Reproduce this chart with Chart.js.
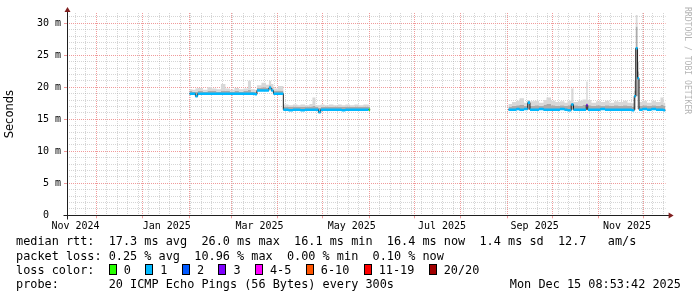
<!DOCTYPE html>
<html>
<head>
<meta charset="utf-8">
<script src="https://cdn.jsdelivr.net/npm/chart.js@4.4.1/dist/chart.umd.min.js"></script>
<style>
  html, body { margin: 0; padding: 0; background: #fff; }
  #wrap { position: relative; width: 697px; height: 297px; overflow: hidden; }
  #graph { position: absolute; left: 0; top: 0; }
  .leg { position: absolute; left: 16px; font-family: 'DejaVu Sans Mono', monospace; font-size: 11.85px; line-height: 14px; white-space: pre; color: #000; }
  .box { display: inline-block; width: 6px; height: 9px; border: 1px solid #000; vertical-align: -1px; }
  #stamp { left: auto; right: 16px; }
  #wm { position: absolute; left: 683px; top: 7px; writing-mode: vertical-rl; font-family: 'DejaVu Sans Mono', monospace; font-size: 8.1px; color: #b4b4b4; white-space: pre; }
</style>
</head>
<body>
<div id="wrap">
  <canvas id="graph" width="697" height="297"></canvas>
  <div id="wm">RRDTOOL / TOBI OETIKER</div>
  <div class="leg" style="top:234px">median rtt:  17.3 ms avg  26.0 ms max  16.1 ms min  16.4 ms now  1.4 ms sd  12.7   am/s</div>
  <div class="leg" style="top:248.5px">packet loss: 0.25 % avg  10.96 % max  0.00 % min  0.10 % now</div>
  <div class="leg" id="lossRow" style="top:262.5px"></div>
  <div class="leg" style="top:277px">probe:       20 ICMP Echo Pings (56 Bytes) every 300s</div>
  <div class="leg" id="stamp" style="top:277px">Mon Dec 15 08:53:42 2025</div>
</div>
<script>
// x values are days counted from 1 Dec 2024
const viewStart = -19.6;
const viewEnd = 379.4;

// month starts (red grid), Dec 2024 .. Dec 2025
const monthDays = [0, 31, 62, 90, 121, 151, 182, 212, 243, 274, 304, 335, 365];
const monthLabels = ['Nov 2024', 'Jan 2025', 'Mar 2025', 'May 2025', 'Jul 2025', 'Sep 2025', 'Nov 2025'];
const monthLabelDays = [-13.9, 46.9, 108.7, 170.2, 230.4, 292.1, 353.7];

const yLabelValues = [0, 5, 10, 15, 20, 25, 30];

// loss colours from smokeping
const lossColors = ['#26ff00', '#00b8ff', '#0059ff', '#7e00ff', '#ff00ff', '#ff5500', '#ff0000', '#a10000'];
const lossNames = ['0', '1', '2', '3', '4-5', '6-10', '11-19', '20/20'];

const days = [
  // feb - may 2025
  62, 64, 66, 67.5, 71, 74, 77, 80, 83, 86, 89, 92, 95, 98, 101, 103, 105.5, 107, 110, 113,
  115, 116.5, 118, 121, 124.6, 128, 131, 134, 136, 139, 142, 144, 146, 148, 149.5, 152, 155, 158, 161, 163.5,
  166, 169, 172, 175, 178, 181.5, 182.5, 183,
  // sep - dec 2025
  274.6, 277, 280, 282, 285, 287.5, 289, 292, 295, 298, 300, 303, 306, 309, 312, 314, 316.5, 318, 321, 324,
  326.5, 327.5, 330, 333, 336, 339, 342, 345, 348, 351, 354, 357, 358.5, 359.5, 360.7, 361.7, 364, 367, 370, 373,
  376, 378, 379.4
];

const medianRtt = [
  19.0, 19.0, 18.6, 19.0, 19.0, 19.0, 19.0, 19.0, 19.0, 19.0, 19.0, 19.0, 19.0, 19.0, 19.0, 19.0, 18.9, 19.5, 19.5, 19.5,
  19.9, 19.5, 19.0, 19.0, 16.5, 16.4, 16.5, 16.5, 16.4, 16.5, 16.5, 16.5, 16.5, 16.1, 16.5, 16.5, 16.5, 16.5, 16.5, 16.4,
  16.5, 16.5, 16.5, 16.5, 16.5, 16.5, 16.5, null,
  16.5, 16.5, 16.6, 16.5, 16.6, 17.6, 16.5, 16.5, 16.6, 16.5, 16.5, 16.5, 16.5, 16.6, 16.5, 16.4, 17.3, 16.5, 16.5, 16.5,
  17.2, 16.5, 16.5, 16.5, 16.6, 16.5, 16.5, 16.5, 16.5, 16.5, 16.5, 16.4, 18.6, 26.1, 21.4, 16.5, 16.6, 16.5, 16.6, 16.5,
  16.5, 16.4, 16.4
];

const smokeLow = [
  18.9, 18.9, 18.5, 18.9, 18.9, 18.9, 18.9, 18.9, 18.9, 18.9, 18.9, 18.9, 18.9, 18.9, 18.9, 18.9, 18.8, 19.4, 19.4, 19.4,
  19.8, 19.4, 18.9, 18.9, 16.4, 16.3, 16.4, 16.4, 16.3, 16.4, 16.4, 16.4, 16.4, 16.0, 16.4, 16.4, 16.4, 16.4, 16.4, 16.3,
  16.4, 16.4, 16.4, 16.4, 16.4, 16.4, 16.4, null,
  16.4, 16.4, 16.5, 16.4, 16.5, 16.5, 16.4, 16.4, 16.5, 16.4, 16.4, 16.4, 16.4, 16.5, 16.4, 16.3, 16.5, 16.4, 16.4, 16.4,
  16.5, 16.4, 16.4, 16.4, 16.5, 16.4, 16.4, 16.4, 16.4, 16.4, 16.4, 16.3, 16.5, 18.6, 16.6, 16.4, 16.5, 16.4, 16.5, 16.4,
  16.4, 16.3, 16.3
];

const smokeMid = [
  19.4, 19.3, 19.3, 19.4, 19.3, 19.4, 19.4, 19.3, 19.5, 19.4, 19.3, 19.4, 19.3, 19.4, 19.6, 19.3, 19.3, 19.9, 20.0, 19.9,
  20.3, 19.9, 19.4, 19.5, 17.0, 16.9, 17.0, 16.9, 16.9, 17.0, 17.0, 17.1, 16.9, 16.8, 16.9, 17.0, 16.9, 17.0, 16.9, 16.9,
  17.0, 16.9, 17.0, 16.9, 17.0, 16.9, 16.9, null,
  17.0, 17.1, 17.2, 17.3, 17.1, 17.8, 17.1, 17.2, 17.1, 17.3, 17.4, 17.2, 17.1, 17.2, 17.1, 17.2, 17.6, 17.2, 17.1, 17.3,
  17.6, 17.2, 17.1, 17.2, 17.1, 17.2, 17.1, 17.2, 17.1, 17.2, 17.1, 17.0, 19.5, 29.5, 22.5, 17.1, 17.2, 17.1, 17.2, 17.1,
  17.3, 17.1, 17.1
];

const smokeHigh = [
  19.7, 19.6, 19.8, 19.9, 19.6, 20.0, 19.8, 19.7, 20.5, 19.8, 19.6, 19.9, 19.7, 19.8, 21.0, 19.7, 19.6, 20.3, 20.7, 20.4,
  21.0, 20.5, 19.8, 20.2, 17.3, 17.2, 17.3, 17.2, 17.3, 17.2, 17.4, 18.4, 17.2, 17.2, 17.3, 17.2, 17.3, 17.2, 17.3, 17.2,
  17.3, 17.2, 17.3, 17.2, 17.3, 17.2, 17.2, null,
  17.4, 17.7, 17.9, 18.3, 17.6, 18.0, 17.8, 17.9, 17.6, 18.0, 18.4, 17.9, 17.7, 17.8, 17.6, 17.9, 19.8, 17.7, 17.9, 18.1,
  20.9, 18.0, 17.6, 17.8, 17.7, 17.9, 17.6, 17.8, 17.7, 17.9, 17.6, 17.5, 21.0, 31.3, 24.0, 17.7, 17.9, 17.6, 17.9, 17.7,
  18.4, 17.6, 17.6
];

// index into lossColors for every step
const lossIdx = [
  1, 1, 1, 1, 1, 1, 1, 1, 1, 1, 1, 1, 1, 1, 1, 1, 1, 1, 1, 1,
  1, 1, 1, 1, 1, 1, 1, 1, 1, 1, 1, 1, 1, 1, 1, 1, 1, 1, 1, 1,
  1, 1, 1, 1, 1, 0, 0, 0,
  1, 1, 1, 1, 1, 1, 1, 1, 1, 1, 1, 1, 1, 1, 1, 1, 1, 1, 1, 1,
  3, 1, 1, 1, 1, 1, 1, 1, 1, 1, 1, 1, 1, 1, 1, 1, 1, 1, 1, 1,
  1, 1, 1
];

// legend row with the loss colour boxes
let lossHtml = 'loss color:  ';
lossColors.forEach(function (c, i) {
  lossHtml += '<span class="box" style="background:' + c + '"></span> ' + lossNames[i] + (i < lossColors.length - 1 ? '  ' : '');
});
document.getElementById('lossRow').innerHTML = lossHtml;

function pts(arr) {
  return days.map(function (d, i) { return { x: d, y: arr[i] }; });
}

const bandHalf = 0.2;
const minorGrid = 'rgba(150,150,150,0.4)';
const majorGrid = '#f09a9a';
const none = 'rgba(0,0,0,0)';

const axisArrows = {
  id: 'axisArrows',
  afterDraw(chart) {
    const ctx = chart.ctx;
    const a = chart.chartArea;
    const x0 = Math.round(a.left) + 0.5;
    const y0 = Math.round(a.bottom) + 0.5;
    ctx.save();
    ctx.strokeStyle = '#1f1f1f';
    ctx.lineWidth = 1;
    ctx.beginPath();
    ctx.moveTo(x0 - 4, y0);
    ctx.lineTo(a.right + 5, y0);
    ctx.moveTo(x0, y0 + 4);
    ctx.lineTo(x0, a.top - 2);
    ctx.stroke();
    ctx.fillStyle = '#801f1f';
    ctx.beginPath();
    ctx.moveTo(x0, a.top - 6);
    ctx.lineTo(x0 - 3, a.top - 1);
    ctx.lineTo(x0 + 3, a.top - 1);
    ctx.closePath();
    ctx.fill();
    ctx.beginPath();
    ctx.moveTo(a.right + 8, y0);
    ctx.lineTo(a.right + 3, y0 - 3);
    ctx.lineTo(a.right + 3, y0 + 3);
    ctx.closePath();
    ctx.fill();
    ctx.restore();
  }
};

Chart.defaults.font.family = "'DejaVu Sans Mono', monospace";
Chart.defaults.color = '#000';

const graph = new Chart(document.getElementById('graph').getContext('2d'), {
  type: 'line',
  data: {
    datasets: [
      {
        label: 'loss band top',
        data: pts(medianRtt.map(function (v) { return v == null ? null : v + bandHalf; })),
        borderColor: none, borderWidth: 0, pointRadius: 0, stepped: true,
        backgroundColor: lossColors[1],
        fill: 1,
        segment: { backgroundColor: function (ctx) { return lossColors[lossIdx[ctx.p0DataIndex]]; } },
        order: 0
      },
      {
        label: 'loss band bottom',
        data: pts(medianRtt.map(function (v) { return v == null ? null : v - bandHalf; })),
        borderColor: none, borderWidth: 0, pointRadius: 0, stepped: true, fill: false,
        order: 1
      },
      {
        label: 'median rtt',
        data: pts(medianRtt),
        borderColor: '#202020', borderWidth: 1, pointRadius: 0, stepped: true, fill: false,
        order: 2
      },
      {
        label: 'smoke high',
        data: pts(smokeHigh),
        borderColor: none, borderWidth: 0, pointRadius: 0, stepped: true,
        backgroundColor: '#d8d8d8', fill: 4,
        order: 3
      },
      {
        label: 'smoke mid',
        data: pts(smokeMid),
        borderColor: none, borderWidth: 0, pointRadius: 0, stepped: true,
        backgroundColor: '#ababab', fill: 5,
        order: 4
      },
      {
        label: 'smoke low',
        data: pts(smokeLow),
        borderColor: none, borderWidth: 0, pointRadius: 0, stepped: true, fill: false,
        order: 5
      }
    ]
  },
  options: {
    responsive: false,
    animation: false,
    devicePixelRatio: 1,
    events: [],
    layout: { padding: { left: 0, right: 31.4, top: 13, bottom: 61.7 } },
    plugins: { legend: { display: false }, tooltip: { enabled: false } },
    scales: {
      x: {
        type: 'linear',
        min: viewStart,
        max: viewEnd,
        afterBuildTicks: function (scale) {
          const vals = new Set();
          for (let d = -14; d <= viewEnd; d += 7) vals.add(d);
          monthDays.forEach(function (d) { vals.add(d); });
          monthLabelDays.forEach(function (d) { vals.add(d); });
          scale.ticks = Array.from(vals).sort(function (a, b) { return a - b; }).map(function (v) { return { value: v }; });
        },
        afterFit: function (scale) { scale.height = 20; },
        ticks: {
          autoSkip: false, maxRotation: 0, padding: 2,
          font: { size: 10 },
          callback: function (v) {
            const i = monthLabelDays.indexOf(v);
            return i >= 0 ? monthLabels[i] : '';
          }
        },
        grid: {
          color: function (ctx) {
            const v = ctx.tick ? ctx.tick.value : null;
            if (monthDays.includes(v)) return majorGrid;
            if (monthLabelDays.includes(v)) return none;
            return minorGrid;
          },
          tickColor: function (ctx) {
            const v = ctx.tick ? ctx.tick.value : null;
            return monthDays.includes(v) ? majorGrid : none;
          },
          tickLength: 3
        },
        border: { display: false, dash: [1, 1] }
      },
      y: {
        min: 0,
        max: 31.6,
        afterBuildTicks: function (scale) {
          const t = [];
          for (let v = 0; v <= 31; v++) t.push({ value: v });
          scale.ticks = t;
        },
        afterFit: function (scale) { scale.width = 67; },
        ticks: {
          autoSkip: false, padding: 3,
          font: { size: 10 },
          callback: function (v) {
            if (!yLabelValues.includes(v)) return '';
            return v === 0 ? '0  ' : v + ' m';
          }
        },
        grid: {
          color: function (ctx) {
            const v = ctx.tick ? ctx.tick.value : null;
            return v % 5 === 0 ? majorGrid : minorGrid;
          },
          tickColor: function (ctx) {
            const v = ctx.tick ? ctx.tick.value : null;
            return v % 5 === 0 ? majorGrid : none;
          },
          tickLength: 3
        },
        border: { display: false, dash: [1, 1] },
        title: {
          display: true,
          text: 'Seconds',
          font: { family: "'DejaVu Sans', sans-serif", size: 11.5 },
          padding: { top: 3, bottom: 0 }
        }
      }
    }
  },
  plugins: [axisArrows]
});
</script>
</body>
</html>
